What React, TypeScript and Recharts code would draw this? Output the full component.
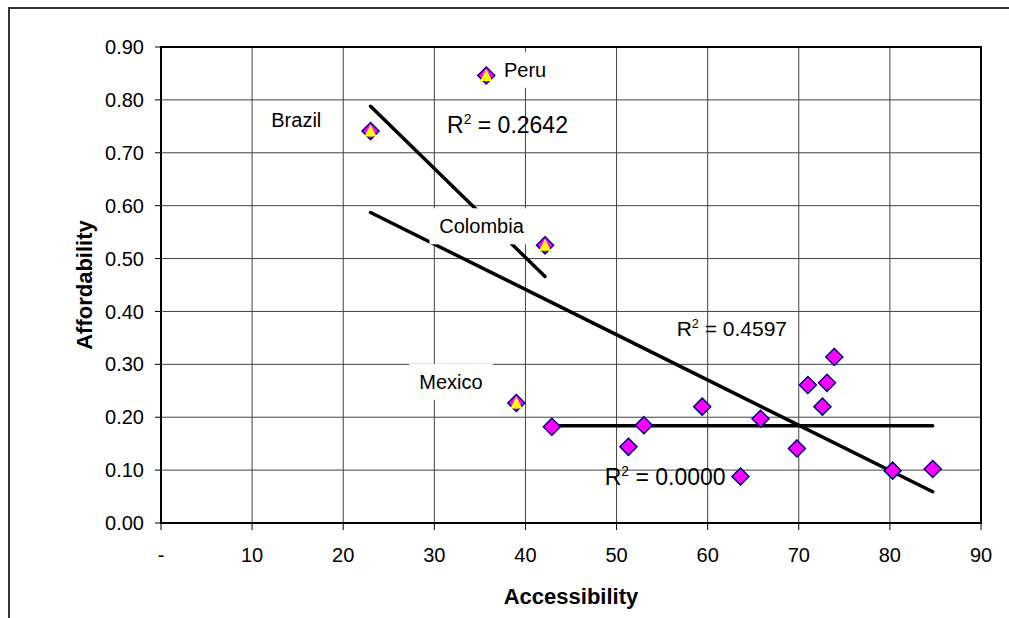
import { ScatterChart, Scatter, XAxis, YAxis, CartesianGrid, ReferenceArea, Label } from "recharts";

// labelled countries (diamond + yellow triangle)
const labeledCountries = ["Peru", "Brazil", "Colombia", "Mexico"];
const labeledAccess = [35.7, 23.0, 42.15, 39.0];
const labeledAfford = [0.846, 0.741, 0.525, 0.227];

// remaining countries
const otherAccess = [42.9, 51.3, 53.0, 59.4, 63.6, 65.8, 69.8, 71.0, 72.6, 73.1, 73.9, 80.3, 84.7];
const otherAfford = [0.182, 0.144, 0.185, 0.22, 0.088, 0.197, 0.141, 0.261, 0.22, 0.265, 0.314, 0.099, 0.102];

// linear trend lines (end points)
const trendLabeledX = [23.0, 42.15];
const trendLabeledY = [0.788, 0.466];
const trendAllX = [23.0, 84.7];
const trendAllY = [0.587, 0.059];
const trendOtherX = [42.9, 84.7];
const trendOtherY = [0.184, 0.184];

// annotation anchors (data units)
const countryLabelX = [39.96, 14.85, 35.18, 31.83];
const countryLabelY = [0.857, 0.762, 0.561, 0.267];
const r2Values = ["0.2642", "0.4597", "0.0000"];
const r2X = [31.4, 56.6, 48.7];
const r2Y = [0.737, 0.353, 0.071];
const r2FontSizes = [23, 21, 23];

const xTicks = [0, 10, 20, 30, 40, 50, 60, 70, 80, 90];
const yTicks = [0, 0.1, 0.2, 0.3, 0.4, 0.5, 0.6, 0.7, 0.8, 0.9];

const FONT = "'Liberation Sans', Arial, sans-serif";

const zip = (xs: number[], ys: number[]) => xs.map((x, i) => ({ x, y: ys[i] }));

const labeledData = labeledCountries.map((name, i) => ({ name, x: labeledAccess[i], y: labeledAfford[i] }));
const otherData = zip(otherAccess, otherAfford);
const countryLabelData = labeledCountries.map((name, i) => ({ text: name, x: countryLabelX[i], y: countryLabelY[i] }));
const r2Data = r2Values.map((v, i) => ({ text: v, idx: i, x: r2X[i], y: r2Y[i] }));

const Diamond = ({ cx, cy }: any) => (
  <path
    d={`M${cx},${cy - 8.5} L${cx + 8.5},${cy} L${cx},${cy + 8.5} L${cx - 8.5},${cy} Z`}
    fill="#FF00FF"
    stroke="#000080"
    strokeWidth={1.5}
  />
);

const Triangle = ({ cx, cy }: any) => (
  <path d={`M${cx},${cy - 6.5} L${cx + 6},${cy + 5.5} L${cx - 6},${cy + 5.5} Z`} fill="#FFFF00" />
);

const Nothing = () => <g />;

const CountryLabel = ({ cx, cy, payload }: any) => {
  const w = payload.text.length * 10 + 24;
  return (
    <g>
      <rect x={cx - w / 2} y={cy - 18} width={w} height={36} fill="#fff" />
      <text x={cx} y={cy + 7} textAnchor="middle" fontSize={20} fontFamily={FONT} fill="#000">
        {payload.text}
      </text>
    </g>
  );
};

const R2Label = ({ cx, cy, payload }: any) => {
  const fs = r2FontSizes[payload.idx];
  return (
    <text x={cx} y={cy} fontSize={fs} fontFamily={FONT} fill="#000">
      <tspan>R</tspan>
      <tspan dy={-fs * 0.4} fontSize={fs * 0.6}>2</tspan>
      <tspan dy={fs * 0.4}>{" = " + payload.text}</tspan>
    </text>
  );
};

const trendLine = { stroke: "#000", strokeWidth: 3.5, strokeLinecap: "round" as const };

export default function App() {
  return (
    <div style={{ position: "absolute", left: 0, top: 0, width: 1009, height: 618, overflow: "hidden", background: "#fff" }}>
      <div
        style={{
          position: "absolute",
          left: 8,
          top: 7,
          width: 1100,
          height: 700,
          borderLeft: "2px solid #333",
          borderTop: "2px solid #333",
        }}
      />
      <div style={{ position: "absolute", left: 0, top: 0 }}>
        <ScatterChart width={1009} height={618} margin={{ top: 47, right: 28, bottom: 0, left: 0 }}>
          <CartesianGrid stroke="#444" strokeWidth={1} />
          <XAxis
            type="number"
            dataKey="x"
            domain={[0, 90]}
            ticks={xTicks}
            height={95}
            tickSize={7}
            tickMargin={18}
            axisLine={{ stroke: "#000", strokeWidth: 2 }}
            tickLine={{ stroke: "#000" }}
            tick={{ fill: "#000", fontSize: 20, fontFamily: FONT }}
            tickFormatter={(v: number) => (v === 0 ? "-" : String(v))}
          >
            <Label
              value="Accessibility"
              position="insideBottom"
              offset={14}
              style={{ fontSize: 22, fontWeight: "bold", fontFamily: FONT, fill: "#000" }}
            />
          </XAxis>
          <YAxis
            type="number"
            dataKey="y"
            domain={[0, 0.9]}
            ticks={yTicks}
            width={161}
            tickSize={6}
            tickMargin={11}
            axisLine={{ stroke: "#000", strokeWidth: 2 }}
            tickLine={{ stroke: "#000" }}
            tick={{ fill: "#000", fontSize: 20, fontFamily: FONT }}
            tickFormatter={(v: number) => v.toFixed(2)}
          >
            <Label
              value="Affordability"
              angle={-90}
              position="insideLeft"
              offset={84}
              style={{ fontSize: 22, fontWeight: "bold", fontFamily: FONT, fill: "#000", textAnchor: "middle" }}
            />
          </YAxis>
          <ReferenceArea x1={0} x2={90} y1={0} y2={0.9} fill="none" stroke="#000" strokeWidth={2} />
          <Scatter data={zip(trendLabeledX, trendLabeledY)} line={trendLine} shape={Nothing} isAnimationActive={false} />
          <Scatter data={zip(trendAllX, trendAllY)} line={trendLine} shape={Nothing} isAnimationActive={false} />
          <Scatter data={zip(trendOtherX, trendOtherY)} line={trendLine} shape={Nothing} isAnimationActive={false} />
          <Scatter data={countryLabelData} shape={CountryLabel} isAnimationActive={false} />
          <Scatter data={r2Data} shape={R2Label} isAnimationActive={false} />
          <Scatter data={otherData} shape={Diamond} isAnimationActive={false} />
          <Scatter data={labeledData} shape={Diamond} isAnimationActive={false} />
          <Scatter data={labeledData} shape={Triangle} isAnimationActive={false} />
        </ScatterChart>
      </div>
    </div>
  );
}
